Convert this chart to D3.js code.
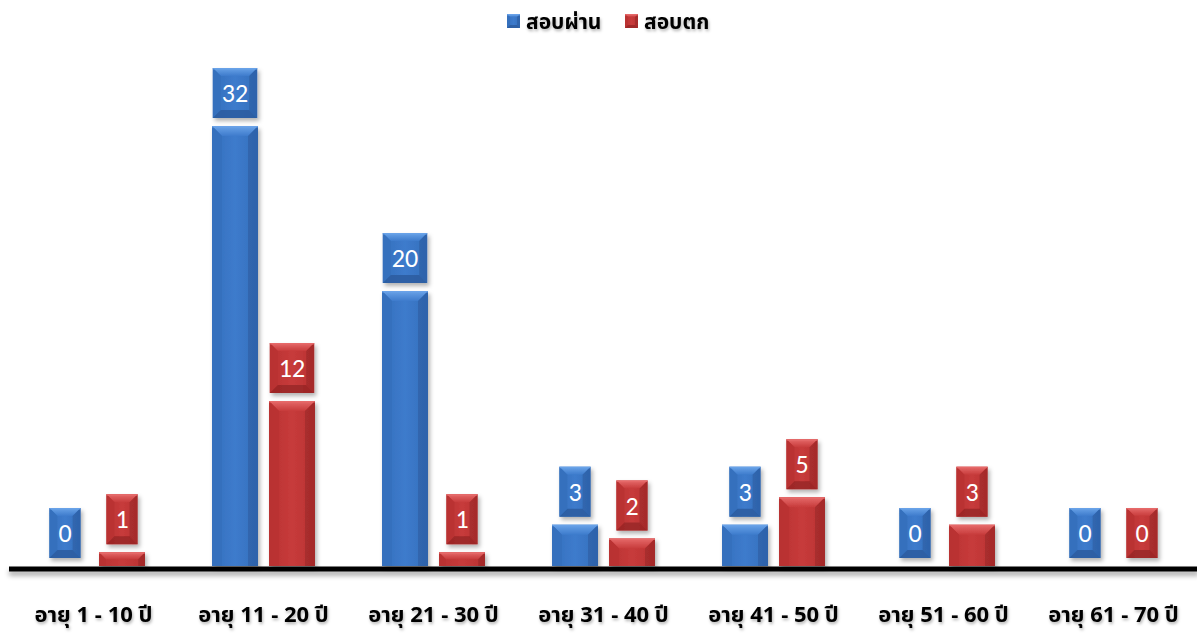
<!DOCTYPE html>
<html><head><meta charset="utf-8">
<script src="https://cdn.jsdelivr.net/npm/d3@7"></script>
<style>
body{margin:0;background:#fff;}
svg{display:block;}
</style></head>
<body>
<svg id="chart" width="1197" height="635"></svg>
<script>
const categories = ["อายุ 1 - 10  ปี","อายุ 11 - 20 ปี","อายุ 21 - 30 ปี","อายุ 31 - 40 ปี","อายุ 41 - 50 ปี","อายุ 51 - 60 ปี","อายุ 61 - 70 ปี"];
const seriesNames = ["สอบผ่าน","สอบตก"];
const passed = [0,32,20,3,3,0,0];
const failed = [1,12,1,2,5,3,0];

const svg = d3.select("#chart");
const W = 1197, H = 635;
const x0 = 8.5, x1 = 1198.5, yBase = 566;
const colors = {
  "สอบผ่าน": {main:"#3d7bcc", light:"#6aa3e8", dark:"#2a5a9c", side:"#3570bd"},
  "สอบตก": {main:"#c73b3b", light:"#e66a6a", dark:"#962626", side:"#b93232"}
};
const fontThai = "'Noto Sans Thai','Noto Sans','Tahoma',sans-serif";

const x = d3.scaleBand().domain(categories).range([x0, x1]).paddingInner(0).paddingOuter(0);
const xs = d3.scaleBand().domain(seriesNames).range([x.bandwidth()/2 - 51.5, x.bandwidth()/2 + 51.5]).paddingInner(0.193).paddingOuter(0);
const y = d3.scaleLinear().domain([0, 40]).range([yBase, yBase - 40*13.75]);

const defs = svg.append("defs");
const f = defs.append("filter").attr("id","sh").attr("x","-30%").attr("y","-30%").attr("width","170%").attr("height","170%");
f.append("feDropShadow").attr("dx",2).attr("dy",3).attr("stdDeviation",2.2).attr("flood-color","#000").attr("flood-opacity",0.3);
const fl = defs.append("filter").attr("id","lsh").attr("filterUnits","userSpaceOnUse").attr("x",0).attr("y",-20).attr("width",W+20).attr("height",40);
fl.append("feDropShadow").attr("dx",0).attr("dy",4).attr("stdDeviation",2.5).attr("flood-color","#000").attr("flood-opacity",0.35);
const ft = defs.append("filter").attr("id","tsh").attr("x","-10%").attr("y","-30%").attr("width","120%").attr("height","180%");
ft.append("feDropShadow").attr("dx",1).attr("dy",2).attr("stdDeviation",1.5).attr("flood-color","#000").attr("flood-opacity",0.3);

seriesNames.forEach((s,i)=>{
  const c = colors[s];
  const g = defs.append("linearGradient").attr("id","g"+i).attr("x1",0).attr("x2",1).attr("y1",0).attr("y2",0);
  g.append("stop").attr("offset","0%").attr("stop-color",c.side);
  g.append("stop").attr("offset","50%").attr("stop-color",c.main);
  g.append("stop").attr("offset","100%").attr("stop-color",c.side);
  const gt = defs.append("linearGradient").attr("id","gt"+i).attr("x1",0).attr("x2",0).attr("y1",0).attr("y2",1);
  gt.append("stop").attr("offset","0%").attr("stop-color",c.light);
  gt.append("stop").attr("offset","100%").attr("stop-color",c.main);
});

function bevelBox(g, bx, by, bw, bh, si, bev, full){
  const c = colors[seriesNames[si]];
  g.append("rect").attr("x",bx).attr("y",by).attr("width",bw).attr("height",bh).attr("fill",`url(#g${si})`);
  const b = Math.min(bev, bw/2, bh/2);
  g.append("path").attr("d",`M${bx},${by}L${bx+bw},${by}L${bx+bw-b},${by+b}L${bx+b},${by+b}Z`).attr("fill",`url(#gt${si})`);
  g.append("path").attr("d",`M${bx},${by}L${bx+b},${by+b}L${bx+b},${by+bh-(full?b:0)}L${bx},${by+bh}Z`).attr("fill",c.side).attr("opacity",0.9);
  g.append("path").attr("d",`M${bx+bw},${by}L${bx+bw-b},${by+b}L${bx+bw-b},${by+bh-(full?b:0)}L${bx+bw},${by+bh}Z`).attr("fill",c.dark).attr("opacity",0.55);
  if(full){
    g.append("path").attr("d",`M${bx},${by+bh}L${bx+b},${by+bh-b}L${bx+bw-b},${by+bh-b}L${bx+bw},${by+bh}Z`).attr("fill",c.dark).attr("opacity",0.8);
  }
  g.append("rect").attr("x",bx).attr("y",by).attr("width",bw).attr("height",1.5).attr("fill",c.light).attr("opacity",0.8);
}

// legend
const legend = svg.append("g").attr("font-family",fontThai).attr("font-weight","bold").attr("font-size",21);
const legX = [507, 625];
seriesNames.forEach((s,i)=>{
  const lg = legend.append("g").attr("transform",`translate(${legX[i]},14)`);
  bevelBox(lg, 0, 0, 13, 14, i, 3, true);
  lg.append("text").attr("x",19).attr("y",15).attr("fill","#000").attr("filter","url(#tsh)").text(s);
});

// axis
const axis = d3.axisBottom(x).tickSize(0).tickSizeOuter(0).tickPadding(38);
const ax = svg.append("g").attr("transform",`translate(0,${yBase+2.5})`).call(axis);
ax.select(".domain").attr("stroke","#000").attr("stroke-width",5).attr("filter","url(#lsh)");
ax.selectAll(".tick text").attr("font-family",fontThai).attr("font-weight","bold").attr("font-size",22).attr("fill","#000").attr("filter","url(#tsh)");

// bars
const data = [];
categories.forEach((cat,ci)=>{
  data.push({cat, s:0, v:passed[ci]});
  data.push({cat, s:1, v:failed[ci]});
});
const barsG = svg.append("g");
data.forEach(d=>{
  const bx = x(d.cat) + xs(seriesNames[d.s]);
  const bw = xs.bandwidth();
  const top = y(d.v);
  const h = yBase - top;
  const g = barsG.append("g").attr("filter","url(#sh)");
  if(h > 0) bevelBox(g, bx, top, bw, h, d.s, 10, false);
});
// value labels
data.forEach(d=>{
  const cx = x(d.cat) + xs(seriesNames[d.s]) + xs.bandwidth()/2;
  const bottom = y(d.v) - 8;
  const g = barsG.append("g");
  const t = g.append("text").attr("x",cx).attr("y",bottom-16).attr("text-anchor","middle")
    .attr("font-family","Carlito,Calibri,'Open Sans',sans-serif").attr("font-size",26).attr("fill","#fff").text(d.v);
  const tw = t.node().getComputedTextLength();
  const bw = Math.min(xs.bandwidth(), tw + 18);
  const box = g.insert("g","text").attr("filter","url(#sh)");
  bevelBox(box, cx - bw/2, bottom - 50, bw, 50, d.s, 8, true);
});
</script>
</body></html>
